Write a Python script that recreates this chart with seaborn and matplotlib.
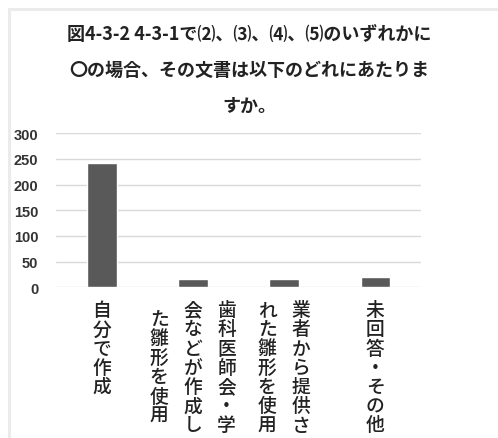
import matplotlib
matplotlib.use("Agg")
import matplotlib.pyplot as plt
from matplotlib.lines import Line2D
import seaborn as sns

# chart data
title_lines = ["図4-3-2 4-3-1で⑵、⑶、⑷、⑸のいずれかに",
               "〇の場合、その文書は以下のどれにあたりま",
               "すか。"]
categories = ["自分で作成",
              "歯科医師会・学会などが作成した雛形を使用",
              "業者から提供された雛形を使用",
              "未回答・その他"]
# label columns as they wrap in the picture (right to left)
label_columns = [["自分で作成"],
                 ["歯科医師会・学", "会などが作成し", "た雛形を使用"],
                 ["業者から提供さ", "れた雛形を使用"],
                 ["未回答・その他"]]
values = [242, 17, 16, 21]
yticks = [0, 50, 100, 150, 200, 250, 300]

sns.set_style("white")
plt.rcParams["font.family"] = ["Noto Sans CJK JP", "DejaVu Sans"]

fig = plt.figure(figsize=(4.98, 4.39), dpi=100)
ax = fig.add_axes([0.1133, 0.3433, 0.7313, 0.3508])

sns.barplot(x=categories, y=values, color="#595959", width=0.32,
            saturation=1, ax=ax, zorder=3)

ax.set_ylim(0, 300)
ax.set_xlim(-0.5, 3.5)
ax.set_yticks(yticks)
ax.set_yticklabels([str(t) for t in yticks], fontsize=10.5, fontweight="bold",
                   color="#333333", family=["Liberation Sans", "DejaVu Sans"])
ax.tick_params(axis="y", length=0, pad=13)
ax.set_xticks([])
ax.set_xlabel("")
ax.set_ylabel("")
ax.grid(axis="y", color="#d9d9d9", linewidth=1)
for s in ax.spines.values():
    s.set_visible(False)

# vertical category labels, one character at a time
pitch = 19.2 * 0.72   # points per character
col_gap = 0.37        # data units between columns
first_off = -22.5 * 0.72
for i, cols in enumerate(label_columns):
    n = len(cols)
    longest = max(len(c) for c in cols)
    for j, col in enumerate(cols):
        x = i + ((n - 1) / 2 - j) * col_gap
        shift = (longest - len(col)) / 2 * pitch if n > 1 else 0
        for k, ch in enumerate(col):
            ax.annotate(ch, xy=(x, 0), xycoords=("data", "axes fraction"),
                        xytext=(0, first_off - shift - k * pitch),
                        textcoords="offset points", ha="center", va="center",
                        fontsize=13.5, fontweight="medium", color="#222222",
                        annotation_clip=False)

# title
for n, line in enumerate(title_lines):
    fig.text(0.5, 1 - (35 + n * 35.5) / 439, line, ha="center", va="center",
             fontsize=13, fontweight="bold", color="#222222")

# light frame of the chart area
fig.add_artist(Line2D([8.5 / 498, 1], [1 - 9.5 / 439] * 2, color="#ebebeb",
                      linewidth=2.2, transform=fig.transFigure))
fig.add_artist(Line2D([8.5 / 498] * 2, [0, 1 - 9.5 / 439], color="#ebebeb",
                      linewidth=2.2, transform=fig.transFigure))

fig.savefig("out.png", dpi=100)
